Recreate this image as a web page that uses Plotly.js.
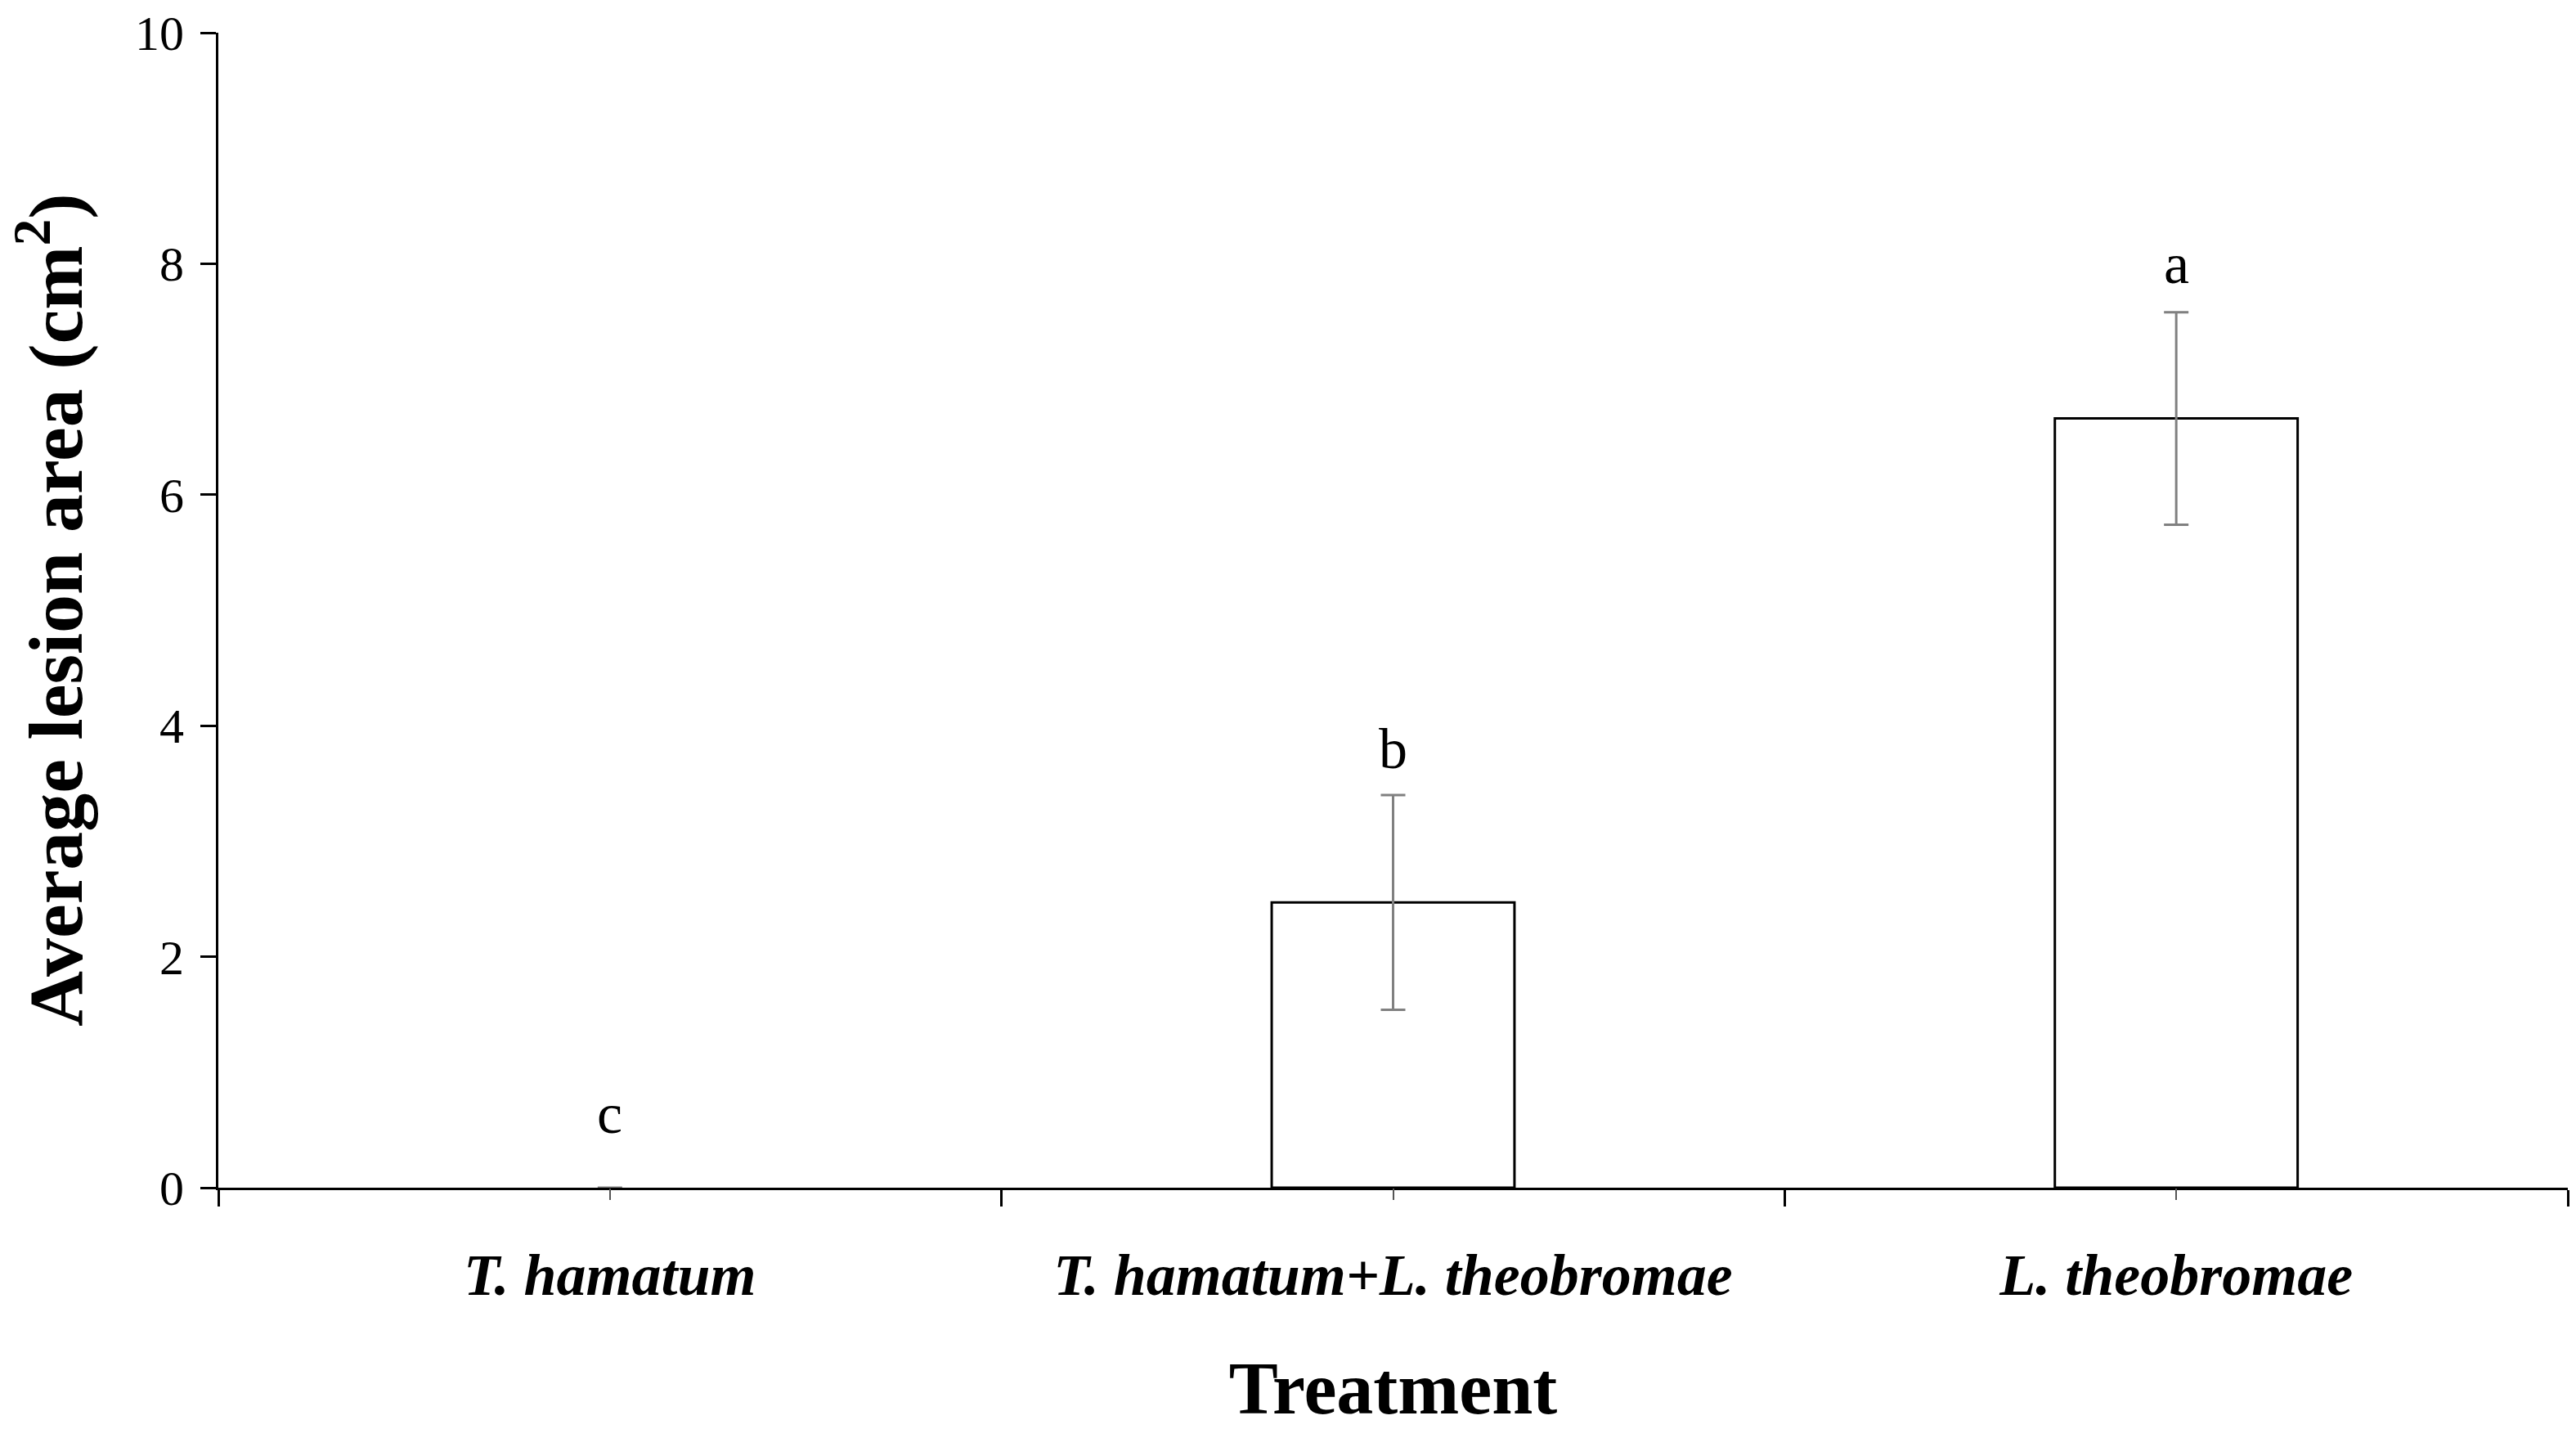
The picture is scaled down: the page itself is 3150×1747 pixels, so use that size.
<!DOCTYPE html>
<html>
<head>
<meta charset="utf-8">
<script src="https://cdn.plot.ly/plotly-3.0.1.min.js"></script>
<style>
  html, body { margin: 0; padding: 0; background: #fff; }
  #chart { width: 3150px; height: 1747px; }
</style>
</head>
<body>
<div id="chart"></div>
<script>
// values
const treatments = ['<b><i>T. hamatum</i></b>', '<b><i>T. hamatum+L. theobromae</i></b>', '<b><i>L. theobromae</i></b>'];
const lesionArea = [0, 2.47, 6.66];
const lesionErr = [0, 0.93, 0.92];
const letters = ['c', 'b', 'a'];
const letterY = [0.64, 3.8, 8.0];
const yTicks = [0, 2, 4, 6, 8, 10];

const font = 'Liberation Serif, Times New Roman, serif';

const bars = {
    type: 'bar',
    x: treatments,
    y: lesionArea,
    width: 0.31,
    marker: {
        color: '#ffffff',
        // no outline on the empty (zero) bar
        line: { color: '#000000', width: lesionArea.map(v => (v > 0 ? 3 : 0)) }
    },
    error_y: {
        type: 'data',
        array: lesionErr,
        visible: true,
        color: '#808080',
        thickness: 3,
        width: 15
    },
    showlegend: false,
    hoverinfo: 'skip'
};

// invisible copy on a second axis, only to carry the centre ticks
const centreTicks = {
    type: 'bar',
    x: treatments,
    y: lesionArea,
    xaxis: 'x2',
    opacity: 0,
    showlegend: false,
    hoverinfo: 'skip'
};

const annotations = letters.map((t, i) => ({
    x: treatments[i],
    y: letterY[i],
    text: t,
    showarrow: false,
    font: { family: font, size: 70, color: '#000' }
}));

// y title sits further left than an axis title can go, so it is an annotation
annotations.push({
    xref: 'paper',
    yref: 'paper',
    x: 0,
    y: 0.5,
    xanchor: 'center',
    yanchor: 'middle',
    xshift: -206,
    textangle: -90,
    text: '<b>Average lesion area (cm<sup>2</sup>)</b>',
    showarrow: false,
    font: { family: font, size: 94, color: '#000' }
});

const layout = {
    width: 3150,
    height: 1747,
    paper_bgcolor: '#ffffff',
    plot_bgcolor: '#ffffff',
    font: { family: font, color: '#000' },
    margin: { l: 267, r: 10, t: 40, b: 295 },
    showlegend: false,
    bargap: 0,
    xaxis: {
        type: 'category',
        range: [-0.5, 2.5],
        showline: true,
        linecolor: '#000',
        linewidth: 3,
        ticks: 'outside',
        tickson: 'boundaries',
        ticklen: 20,
        tickwidth: 3,
        tickcolor: '#000',
        showgrid: false,
        zeroline: false,
        tickfont: { family: font, size: 72, color: '#000' },
        ticklabelstandoff: 42,
        title: {
            text: '<b>Treatment</b>',
            font: { family: font, size: 90, color: '#000' },
            standoff: 106
        }
    },
    xaxis2: {
        type: 'category',
        overlaying: 'x',
        matches: 'x',
        range: [-0.5, 2.5],
        ticks: 'outside',
        ticklen: 14,
        tickwidth: 2,
        tickcolor: '#555',
        showticklabels: false,
        showgrid: false,
        showline: false,
        zeroline: false
    },
    yaxis: {
        range: [0, 10],
        tickvals: yTicks,
        showline: true,
        linecolor: '#000',
        linewidth: 3,
        ticks: 'outside',
        ticklen: 19,
        tickwidth: 3,
        tickcolor: '#000',
        showgrid: false,
        zeroline: false,
        tickfont: { family: font, size: 60, color: '#000' },
        ticklabelstandoff: 8,
        ticklabeloverflow: 'allow'
    },
    annotations: annotations
};

Plotly.newPlot('chart', [bars, centreTicks], layout, { displayModeBar: false, staticPlot: true });
</script>
</body>
</html>
